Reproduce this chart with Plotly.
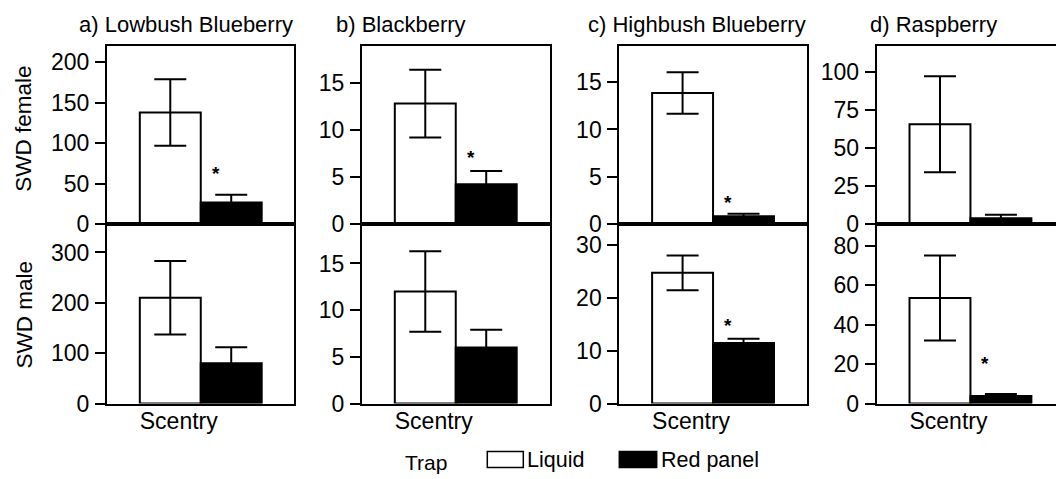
import plotly.graph_objects as go

# ---------------- data ----------------
panel_titles = ["a) Lowbush Blueberry", "b) Blackberry", "c) Highbush Blueberry", "d) Raspberry"]
category = ["Scentry"]
traps = ["Liquid", "Red panel"]

female_liquid = [138, 12.8, 13.85, 65.6]
female_liquid_se = [41, 3.6, 2.2, 31.5]
female_red = [27, 4.25, 0.85, 4.0]
female_red_se = [9.5, 1.4, 0.25, 2.3]

male_liquid = [210, 12.0, 24.8, 53.6]
male_liquid_se = [73, 4.3, 3.3, 21.6]
male_red = [80, 6.0, 11.5, 3.8]
male_red_se = [32, 1.9, 0.8, 1.0]

# height of significance asterisk (None = not significant)
female_star = [66, 7.4, 2.6, None]
male_star = [None, None, 15.3, 21.6]

female_ticks = [[0, 50, 100, 150, 200], [0, 5, 10, 15], [0, 5, 10, 15], [0, 25, 50, 75, 100]]
male_ticks = [[0, 100, 200, 300], [0, 5, 10, 15], [0, 10, 20, 30], [0, 20, 40, 60, 80]]
female_max = [220, 18.9, 18.8, 117]
male_max = [356, 19.2, 34, 91]

row_labels = ["SWD female", "SWD male"]

# ---------------- layout geometry (pixels) ----------------
W, H = 1056, 479
# measured: the plotting paper shows on screen between these rows
PAPER_TOP, PAPER_H = 0.0, 465.4
col_px = [(107, 294), (362, 550), (619.3, 806.7), (876.7, 1056)]
row_px = [(46, 224), (224, 403)]
FULL_W = 187.5  # width of a complete panel box in px


def px_x(p):
    return p / W


def px_y(p):
    return 1 - (p - PAPER_TOP) / PAPER_H


FONT = "Liberation Sans, Arial, sans-serif"
fig = go.Figure()
layout = dict(
    width=W, height=H,
    margin=dict(l=0, r=0, t=0, b=0),
    paper_bgcolor="white", plot_bgcolor="white",
    barmode="group", bargap=0.35, bargroupgap=0,
    showlegend=False,
    font=dict(family=FONT, color="black", size=22),
)

annotations = []
shapes = []

rows = [
    (female_liquid, female_liquid_se, female_red, female_red_se, female_star, female_ticks, female_max),
    (male_liquid, male_liquid_se, male_red, male_red_se, male_star, male_ticks, male_max),
]

idx = 0
for r, (liq, liq_se, red, red_se, star, ticks, ymax) in enumerate(rows):
    for c in range(4):
        idx += 1
        xa = "x" if idx == 1 else f"x{idx}"
        ya = "y" if idx == 1 else f"y{idx}"
        xkey = "xaxis" if idx == 1 else f"xaxis{idx}"
        ykey = "yaxis" if idx == 1 else f"yaxis{idx}"
        x0, x1 = col_px[c]
        y0, y1 = row_px[r]
        xr_hi = -0.5 + (x1 - x0) / FULL_W
        last = (c == 3)

        fig.add_trace(go.Bar(
            x=category, y=[liq[c]], name=traps[0], xaxis=xa, yaxis=ya,
            marker=dict(color="white", line=dict(color="black", width=2)),
            error_y=dict(type="data", array=[liq_se[c]], color="black", thickness=2, width=16),
        ))
        fig.add_trace(go.Bar(
            x=category, y=[red[c]], name=traps[1], xaxis=xa, yaxis=ya,
            marker=dict(color="black", line=dict(color="black", width=2)),
            error_y=dict(type="data", array=[red_se[c]], color="black", thickness=2, width=16),
        ))

        layout[xkey] = dict(
            domain=[px_x(x0), px_x(x1)], anchor=ya,
            range=[-0.5, xr_hi], fixedrange=True,
            showline=True, linecolor="black", linewidth=2, mirror=True,
            ticks="", showgrid=False, zeroline=False,
            showticklabels=(r == 1), ticklabelshift=-22, ticklabelstandoff=-4,
            tickfont=dict(size=23, family=FONT),
        )
        layout[ykey] = dict(
            domain=[px_y(y1), px_y(y0)], anchor=xa,
            range=[0, ymax[c]], fixedrange=True,
            showline=True, linecolor="black", linewidth=2, mirror=(not last),
            ticks="outside", ticklen=10, tickwidth=2, tickcolor="black",
            tickvals=ticks[c], showgrid=False, zeroline=False,
            tickfont=dict(size=23, family=FONT), ticklabelstandoff=1,
        )

        if star[c] is not None:
            annotations.append(dict(
                x=category[0], y=star[c], xref=xa, yref=ya, text="<b>*</b>",
                showarrow=False, xshift=15, yshift=-3,
                font=dict(size=19, family=FONT, color="black"),
            ))

# panel titles
title_left = [77, 334, 586, 868]
for c in range(4):
    annotations.append(dict(
        x=px_x(title_left[c]), y=px_y(24), xref="paper", yref="paper",
        xanchor="left", yanchor="middle", text=panel_titles[c], showarrow=False,
        font=dict(size=22, family=FONT),
    ))

# row labels
row_label_y = [128.5, 314]
for r in range(2):
    annotations.append(dict(
        x=px_x(24), y=px_y(row_label_y[r]), xref="paper", yref="paper",
        xanchor="center", yanchor="middle", textangle=-90,
        text=row_labels[r], showarrow=False, font=dict(size=22.5, family=FONT),
    ))

# legend (custom, to match wide rectangular swatches)
annotations.append(dict(x=px_x(403), y=px_y(462), xref="paper", yref="paper",
                        xanchor="left", yanchor="middle", text="Trap", showarrow=False,
                        font=dict(size=21, family=FONT)))
swatches = [(487.3, 523.3, "white"), (619.3, 656.7, "black")]
for (sx0, sx1, col), name in zip(swatches, traps):
    shapes.append(dict(type="rect", xref="paper", yref="paper",
                       x0=px_x(sx0), x1=px_x(sx1), y0=px_y(467), y1=px_y(451),
                       fillcolor=col, line=dict(color="black", width=1.5)))
    annotations.append(dict(x=px_x(sx1 + 2), y=px_y(459.5), xref="paper", yref="paper",
                            xanchor="left", yanchor="middle", text=name, showarrow=False,
                            font=dict(size=21.5, family=FONT)))

layout["annotations"] = annotations
layout["shapes"] = shapes
fig.update_layout(**layout)
fig.write_html("out.html", config={"displayModeBar": False})
